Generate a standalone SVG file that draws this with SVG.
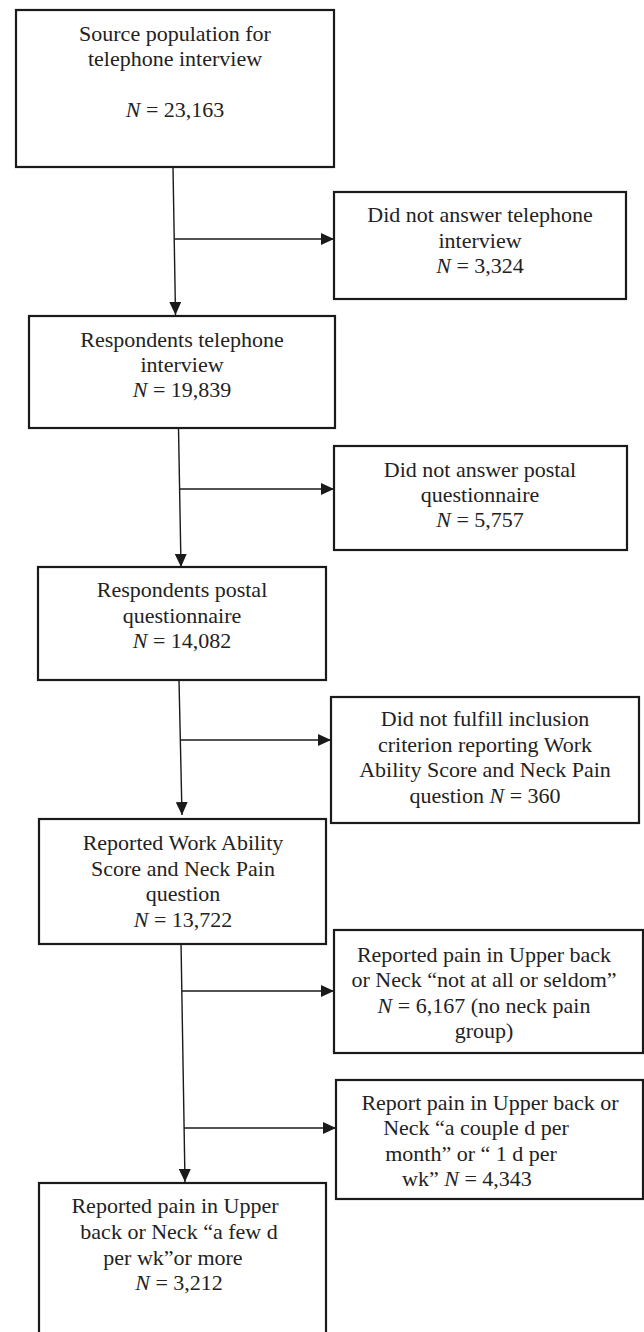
<svg xmlns="http://www.w3.org/2000/svg" width="644" height="1332" viewBox="0 0 644 1332">
<style>
.box{fill:#fff;stroke:#1a1a1a;stroke-width:2.2}
.t{font-size:22px;fill:#222;text-anchor:middle}
.i{font-style:italic}
.c{stroke:#1a1a1a;stroke-width:1.4;fill:none}
</style>
<defs>
<marker id="ah" markerUnits="userSpaceOnUse" markerWidth="14" markerHeight="12" refX="13" refY="6" orient="auto">
<path d="M0,0 L13,6 L0,12 z" fill="#1a1a1a"/>
</marker>
</defs>
<rect width="644" height="1332" fill="#fff"/>
<g id="connectors">
<path class="c" d="M173,167 L175.5,315" marker-end="url(#ah)"/>
<path class="c" d="M175,239 L334,239" marker-end="url(#ah)"/>
<path class="c" d="M178.5,428 L181,567" marker-end="url(#ah)"/>
<path class="c" d="M180,489 L334,489" marker-end="url(#ah)"/>
<path class="c" d="M179,680 L182,815" marker-end="url(#ah)"/>
<path class="c" d="M181,740 L331,740" marker-end="url(#ah)"/>
<path class="c" d="M181,942 L185,1182" marker-end="url(#ah)"/>
<path class="c" d="M182,991 L334,991" marker-end="url(#ah)"/>
<path class="c" d="M184,1128 L336,1128" marker-end="url(#ah)"/>
</g>
<g font-family="Liberation Serif, Times New Roman, DejaVu Serif, serif">
<g id="n1">
<rect class="box" x="16" y="10" width="318" height="157"/>
<text class="t" x="175" y="41">Source population for</text>
<text class="t" x="175" y="66">telephone interview</text>
<text class="t" x="175" y="117"><tspan class="i">N</tspan> = 23,163</text>
</g>
<g id="n2">
<rect class="box" x="334" y="192" width="292" height="107"/>
<text class="t" x="480" y="222">Did not answer telephone</text>
<text class="t" x="480" y="248">interview</text>
<text class="t" x="480" y="273"><tspan class="i">N</tspan> = 3,324</text>
</g>
<g id="n3">
<rect class="box" x="29" y="316" width="306" height="112"/>
<text class="t" x="182" y="347">Respondents telephone</text>
<text class="t" x="182" y="372">interview</text>
<text class="t" x="182" y="397"><tspan class="i">N</tspan> = 19,839</text>
</g>
<g id="n4">
<rect class="box" x="334" y="446" width="293" height="104"/>
<text class="t" x="480" y="477">Did not answer postal</text>
<text class="t" x="480" y="502">questionnaire</text>
<text class="t" x="480" y="527"><tspan class="i">N</tspan> = 5,757</text>
</g>
<g id="n5">
<rect class="box" x="38" y="567" width="288" height="113"/>
<text class="t" x="182" y="597">Respondents postal</text>
<text class="t" x="182" y="623">questionnaire</text>
<text class="t" x="182" y="648"><tspan class="i">N</tspan> = 14,082</text>
</g>
<g id="n6">
<rect class="box" x="331" y="697" width="308" height="126"/>
<text class="t" x="485" y="726">Did not fulfill inclusion</text>
<text class="t" x="485" y="752">criterion reporting Work</text>
<text class="t" x="485" y="777">Ability Score and Neck Pain</text>
<text class="t" x="485" y="803">question <tspan class="i">N</tspan> = 360</text>
</g>
<g id="n7">
<rect class="box" x="39" y="819" width="287" height="125"/>
<text class="t" x="183" y="850">Reported Work Ability</text>
<text class="t" x="183" y="876">Score and Neck Pain</text>
<text class="t" x="183" y="901">question</text>
<text class="t" x="183" y="927"><tspan class="i">N</tspan> = 13,722</text>
</g>
<g id="n8">
<rect class="box" x="334" y="930" width="309" height="123"/>
<text class="t" x="484" y="962">Reported pain in Upper back</text>
<text class="t" x="484" y="987">or Neck “not at all or seldom”</text>
<text class="t" x="484" y="1013"><tspan class="i">N</tspan> = 6,167 (no neck pain</text>
<text class="t" x="484" y="1038">group)</text>
</g>
<g id="n9">
<rect class="box" x="336" y="1080" width="307" height="119"/>
<text class="t" x="490" y="1110">Report pain in Upper back or</text>
<text class="t" x="476" y="1135">Neck “a couple d per</text>
<text class="t" x="471" y="1161">month” or “ 1 d per</text>
<text class="t" x="467" y="1186">wk” <tspan class="i">N</tspan> = 4,343</text>
</g>
<g id="n10">
<rect class="box" x="39" y="1183" width="287" height="170"/>
<text class="t" x="175" y="1213">Reported pain in Upper</text>
<text class="t" x="179" y="1239">back or Neck “a few d</text>
<text class="t" x="173" y="1265">per wk”or more</text>
<text class="t" x="179" y="1290"><tspan class="i">N</tspan> = 3,212</text>
</g>
</g>
</svg>
